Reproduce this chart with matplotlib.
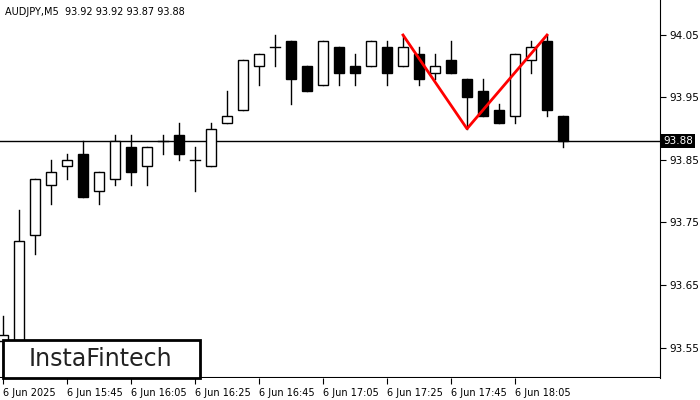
# %% Libraries
import numpy as np
import matplotlib.pyplot as plt
from matplotlib.patches import Rectangle

# %% Data
# --+ OHLC, AUDJPY M5
opens  = [93.56, 93.52, 93.73, 93.81, 93.84, 93.86, 93.80, 93.82, 93.87, 93.84, 93.88, 93.89,
          93.85, 93.84, 93.91, 93.93, 94.00, 94.03, 94.04, 94.00, 93.97, 94.03, 94.00, 94.00,
          94.03, 94.00, 94.02, 93.99, 94.01, 93.98, 93.96, 93.93, 93.92, 94.01, 94.04, 93.92]
highs  = [93.60, 93.77, 93.82, 93.85, 93.86, 93.88, 93.83, 93.89, 93.89, 93.87, 93.89, 93.91,
          93.87, 93.91, 93.96, 94.01, 94.02, 94.05, 94.04, 94.00, 94.04, 94.03, 94.02, 94.04,
          94.04, 94.05, 94.03, 94.02, 94.04, 93.98, 93.98, 93.94, 94.02, 94.04, 94.05, 93.92]
lows   = [93.50, 93.50, 93.70, 93.78, 93.82, 93.79, 93.78, 93.81, 93.81, 93.81, 93.86, 93.85,
          93.80, 93.84, 93.91, 93.93, 93.97, 94.00, 93.94, 93.96, 93.97, 93.97, 93.97, 94.00,
          93.97, 94.00, 93.97, 93.98, 93.99, 93.90, 93.92, 93.91, 93.91, 93.99, 93.92, 93.87]
closes = [93.57, 93.72, 93.82, 93.83, 93.85, 93.79, 93.83, 93.88, 93.83, 93.87, 93.88, 93.86,
          93.85, 93.90, 93.92, 94.01, 94.02, 94.03, 93.98, 93.96, 94.04, 93.99, 93.99, 94.04,
          93.99, 94.03, 93.98, 94.00, 93.99, 93.95, 93.92, 93.91, 94.02, 94.03, 93.93, 93.88]
# --+ pattern points (bar index, price)
pattern_idx = [25, 29, 34]
pattern_px = [94.05, 93.90, 94.05]
# --+ axis
last_price = 93.88
y_ticks = [94.05, 93.95, 93.85, 93.75, 93.65, 93.55]
x_tick_idx = [0, 4, 8, 12, 16, 20, 24, 28, 32]
x_tick_labels = ['6 Jun 2025', '6 Jun 15:45', '6 Jun 16:05', '6 Jun 16:25', '6 Jun 16:45',
                 '6 Jun 17:05', '6 Jun 17:25', '6 Jun 17:45', '6 Jun 18:05']

# %% Figure
fig = plt.figure(figsize=(7, 4), dpi=100)
ax = fig.add_axes([0, 22 / 400, 660 / 700, 378 / 400])
# --+ candles
w = 10 / 16
for i, (o, h, l, c) in enumerate(zip(opens, highs, lows, closes)):
    ax.plot([i, i], [l, h], color='black', lw=1, zorder=2)
    bottom, height = min(o, c), abs(c - o)
    face = 'white' if c >= o else 'black'
    if height < 0.003:
        ax.plot([i - w / 2, i + w / 2], [o, o], color='black', lw=1, zorder=3)
    else:
        ax.add_patch(Rectangle((i - w / 2, bottom), w, height, facecolor=face,
                               edgecolor='black', lw=1, zorder=3))
# --+ pattern
ax.plot(pattern_idx, pattern_px, color='red', lw=2, zorder=4)
# --+ last price line
ax.axhline(last_price, color='black', lw=1, zorder=1)
# --+ limits
ax.set_xlim(-3 / 16, 657 / 16)
ax.set_ylim(94.05 - 343 / 625, 94.05 + 35 / 625)
# --+ axes look
for s in ['top', 'left', 'bottom']:
    ax.spines[s].set_visible(False)
ax.spines['right'].set_color('black')
ax.yaxis.tick_right()
ax.set_yticks(y_ticks)
ax.set_yticklabels(['%.2f' % v for v in y_ticks], fontsize=7.5)
ax.tick_params(axis='y', length=4, pad=3)
ax.set_xticks(x_tick_idx)
ax.set_xticklabels(x_tick_labels, fontsize=7, ha='left')
ax.tick_params(axis='x', length=4, pad=3)
ax.axhline(ax.get_ylim()[0], color='black', lw=1.5)
# --+ last price label
ax.text(1.005, last_price, '%.2f' % last_price, transform=ax.get_yaxis_transform(),
        fontsize=7.5, color='white', va='center', ha='left',
        bbox=dict(facecolor='black', edgecolor='none', pad=1.5))
# --+ title
fig.text(5 / 700, 1 - 12 / 400, 'AUDJPY,M5  93.92 93.92 93.87 93.88', fontsize=7,
         va='center', ha='left')
# --+ logo
fig.patches.append(Rectangle((3 / 700, 22 / 400), 197 / 700, 38 / 400, transform=fig.transFigure,
                             facecolor='white', edgecolor='black', lw=2, zorder=10))
fig.text(100 / 700, 41 / 400, 'InstaFintech', fontsize=17, color='#222222', ha='center',
         va='center', zorder=11)

fig.savefig('out.png', dpi=100)
